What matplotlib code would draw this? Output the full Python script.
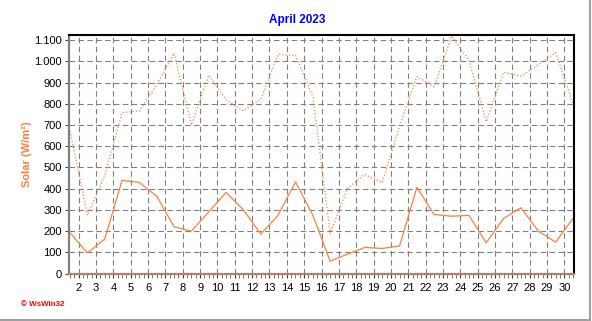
import matplotlib
matplotlib.use("Agg")
import matplotlib.pyplot as plt
from matplotlib.ticker import MultipleLocator, FuncFormatter
from matplotlib.lines import Line2D

plt.rcParams["font.family"] = ["Liberation Sans", "DejaVu Sans"]

# April 2023, one value per day (plotted at midday)
days = list(range(1, 31))
solar_avg = [192, 97, 162, 439, 429, 364, 220, 200, 291, 382,
             299, 186, 275, 432, 275, 58, 91, 123, 118, 130,
             406, 278, 270, 274, 145, 259, 310, 200, 148, 259]
solar_max = [671, 275, 461, 758, 766, 890, 1038, 700, 935, 818,
             766, 822, 1033, 1028, 835, 189, 401, 467, 429, 692,
             928, 880, 1119, 1006, 715, 948, 931, 983, 1041, 799]
x_labels = list(range(2, 31))

orange = "#FF7F3F"

fig = plt.figure(figsize=(5.92, 3.21), dpi=100)
ax = fig.add_axes([69 / 592, 1 - 273.5 / 321, (574 - 69) / 592, (273.5 - 35) / 321])

x = [d + 0.5 for d in days]
ax.plot(x, solar_max, color=orange, linewidth=0.9, linestyle=(0, (1, 1.6)))
ax.plot(x, solar_avg, color=orange, linewidth=0.9)
ax.axhline(0, color=orange, linewidth=1.2, linestyle=(0, (1, 1)), zorder=5, clip_on=False)

ax.set_xlim(1.44, 30.56)
ax.set_ylim(0, 1124)
ax.set_xticks(x_labels)
ax.set_xticklabels([str(d) for d in x_labels])
ax.xaxis.set_minor_locator(MultipleLocator(0.25))
ax.set_yticks(range(0, 1101, 100))
ax.yaxis.set_major_formatter(FuncFormatter(lambda v, p: f"{v:,.0f}".replace(",", ".")))

ax.grid(True, which="major", color="#808080", linestyle=(0, (5, 3)), linewidth=0.8)
ax.set_axisbelow(True)

ax.tick_params(axis="both", which="major", labelsize=8, length=3, width=0.8,
               color="#404040", labelcolor="black", pad=2)
ax.tick_params(axis="x", which="minor", length=3, width=0.6, color="#606060")
ax.tick_params(axis="x", which="major", pad=4)

for side in ("left", "bottom"):
    ax.spines[side].set_color("#808080")
    ax.spines[side].set_linewidth(1.6)
for side in ("top", "right"):
    ax.spines[side].set_color("black")
    ax.spines[side].set_linewidth(1.5)

ax.set_ylabel("Solar (W/m²)", color=orange, fontsize=8, fontweight="bold")
ax.yaxis.set_label_coords(-0.074, 0.5)

fig.text(297 / 592, 1 - 20.5 / 321, "April 2023", color="#0000FF", fontsize=8.5,
         fontweight="bold", ha="center", va="center")
fig.text(21 / 592, 1 - 304 / 321, "© WsWin32", color="red", fontsize=5.8,
         fontweight="bold", ha="left", va="center")

# window edge on the right and bottom
fig.add_artist(Line2D([0, 590 / 592], [1 - 320 / 321] * 2, color="#A0A0A0", linewidth=1.5))
fig.add_artist(Line2D([590 / 592] * 2, [1 - 320 / 321, 1], color="#A0A0A0", linewidth=1.5))

fig.savefig("out.png", dpi=100)
